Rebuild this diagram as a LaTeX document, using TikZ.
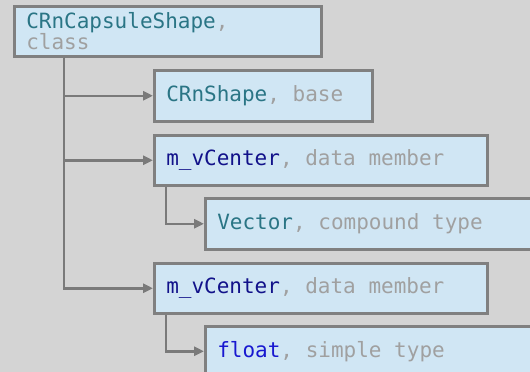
\documentclass[tikz,border=0pt]{standalone}
\usepackage{fontspec}
\setmonofont{DejaVu Sans Mono}
\usetikzlibrary{arrows.meta}
\definecolor{bg}{HTML}{D4D4D4}
\definecolor{boxfill}{HTML}{D0E6F4}
\definecolor{boxline}{HTML}{808080}
\definecolor{connline}{HTML}{7A7A7A}
\definecolor{teal}{HTML}{2A7585}
\definecolor{navy}{HTML}{12128A}
\definecolor{kwblue}{HTML}{1818D0}
\definecolor{desc}{HTML}{A0A0A0}
\newcommand{\msp}{\hspace*{0.602em}}
\tikzset{
  box/.style={draw=boxline, fill=boxfill, line width=2.5pt, rectangle, anchor=north west,
    inner xsep=12pt, inner ysep=2pt, align=left,
    font=\ttfamily\fontsize{21}{20}\selectfont},
  conn/.style={draw=connline, line width=2.5pt,
    -{Triangle[length=10pt,width=9pt]}},
}
\begin{document}
\begin{tikzpicture}[x=1pt,y=-1pt]
\fill[bg] (0,0) rectangle (530,372);
\useasboundingbox (0,0) rectangle (530,372);
\clip (0,0) rectangle (530,372);
\node[box, text width=283pt, minimum height=50pt] (b1) at (13,5)
  {\textcolor{teal}{CRnCapsuleShape}\textcolor{desc}{,}\\\textcolor{desc}{class}};
\node[box, text width=194pt, minimum height=51pt] (b2) at (153,69)
  {\textcolor{teal}{CRnShape}\textcolor{desc}{,\msp{}base}};
\node[box, text width=309pt, minimum height=50pt] (b3) at (153,134)
  {\textcolor{navy}{m\_vCenter}\textcolor{desc}{,\msp{}data\msp{}member}};
\node[box, text width=317pt, minimum height=51pt] (b4) at (204,197)
  {\textcolor{teal}{Vector}\textcolor{desc}{,\msp{}compound\msp{}type}};
\node[box, text width=309pt, minimum height=50pt] (b5) at (153,262)
  {\textcolor{navy}{m\_vCenter}\textcolor{desc}{,\msp{}data\msp{}member}};
\node[box, text width=317pt, minimum height=50pt] (b6) at (204,325)
  {\textcolor{kwblue}{float}\textcolor{desc}{,\msp{}simple\msp{}type}};
\draw[conn] ([xshift=51pt]b1.south west) |- (b2.west);
\draw[conn] ([xshift=51pt]b1.south west) |- (b3.west);
\draw[conn] ([xshift=51pt]b1.south west) |- (b5.west);
\draw[conn] ([xshift=13pt]b3.south west) |- (b4.west);
\draw[conn] ([xshift=13pt]b5.south west) |- (b6.west);
\end{tikzpicture}
\end{document}
